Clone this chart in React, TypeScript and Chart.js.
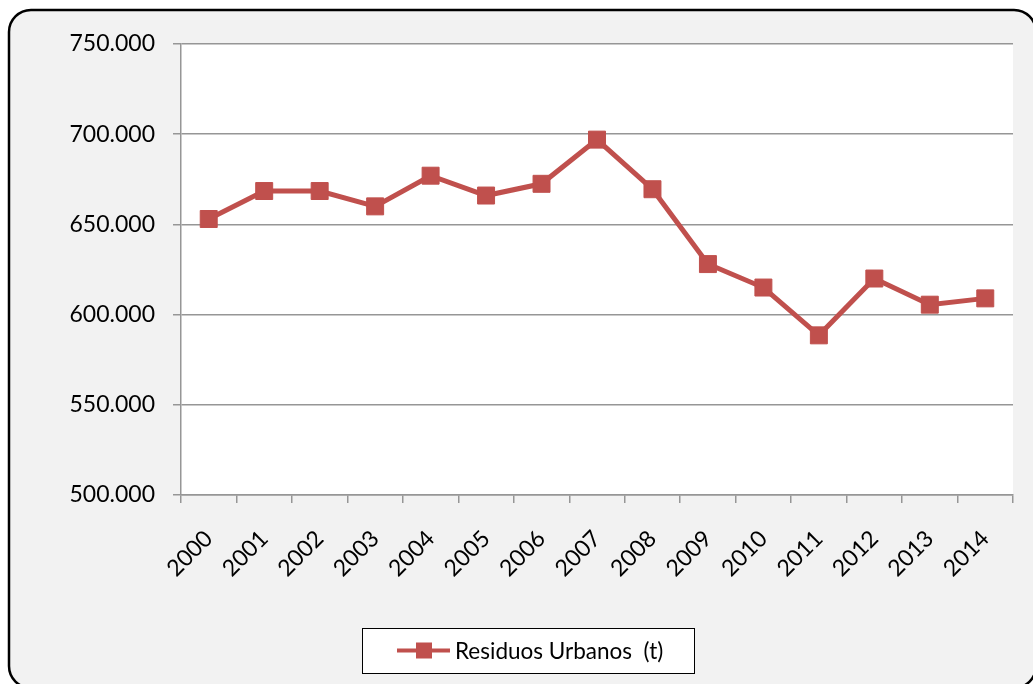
import React, { useEffect, useRef } from "react";
import { Chart, registerables } from "chart.js";

Chart.register(...registerables);

const years = ["2000","2001","2002","2003","2004","2005","2006","2007","2008","2009","2010","2011","2012","2013","2014"];
const residuos = [653000, 668500, 668500, 660000, 677000, 666000, 672500, 697000, 669500, 628000, 615000, 588500, 620000, 605500, 609000];
const seriesLabel = "Residuos Urbanos  (t)";
const yMin = 500000;
const yMax = 750000;
const yStep = 50000;

const RED = "#c0504d";
const GRID = "#969696";
const FONT = "Lato, 'Liberation Sans', sans-serif";

function fmt(v: number): string {
  return String(Math.round(v)).replace(/\B(?=(\d{3})+(?!\d))/g, ".");
}

const framePlugin = {
  id: "frame",
  beforeDraw(chart: any) {
    const ctx = chart.ctx;
    const r = 22;
    const x0 = 9, y0 = 10, x1 = 1036, y1 = 688;
    ctx.save();
    ctx.beginPath();
    ctx.moveTo(x0 + r, y0);
    ctx.lineTo(x1 - r, y0);
    ctx.arcTo(x1, y0, x1, y0 + r, r);
    ctx.lineTo(x1, y1 - r);
    ctx.arcTo(x1, y1, x1 - r, y1, r);
    ctx.lineTo(x0 + r, y1);
    ctx.arcTo(x0, y1, x0, y1 - r, r);
    ctx.lineTo(x0, y0 + r);
    ctx.arcTo(x0, y0, x0 + r, y0, r);
    ctx.closePath();
    ctx.fillStyle = "#f2f2f2";
    ctx.fill();
    ctx.lineWidth = 2.5;
    ctx.strokeStyle = "#000";
    ctx.stroke();
    const a = chart.chartArea;
    ctx.fillStyle = "#fff";
    ctx.fillRect(a.left, a.top, a.right - a.left, a.bottom - a.top);
    ctx.restore();
  },
};

const legendPlugin = {
  id: "boxLegend",
  afterDraw(chart: any) {
    const ctx = chart.ctx;
    const ds = chart.data.datasets[0];
    ctx.save();
    const bx = 362, by = 628, bw = 332, bh = 45;
    ctx.fillStyle = "#fff";
    ctx.fillRect(bx, by, bw, bh);
    ctx.strokeStyle = "#000";
    ctx.lineWidth = 1;
    ctx.strokeRect(bx + 0.5, by + 0.5, bw, bh);
    const cy = by + bh / 2;
    ctx.strokeStyle = ds.borderColor;
    ctx.lineWidth = 4;
    ctx.beginPath();
    ctx.moveTo(397, cy);
    ctx.lineTo(450, cy);
    ctx.stroke();
    ctx.fillStyle = ds.pointBackgroundColor;
    ctx.fillRect(416, cy - 8, 16, 16);
    ctx.fillStyle = "#000";
    ctx.font = `22.5px ${FONT}`;
    ctx.textBaseline = "middle";
    ctx.textAlign = "left";
    ctx.fillText(ds.label, 455, cy + 1);
    ctx.restore();
  },
};

export default function App() {
  const ref = useRef<HTMLCanvasElement | null>(null);
  useEffect(() => {
    if (!ref.current) return;
    const chart = new Chart(ref.current, {
      type: "line",
      data: {
        labels: years,
        datasets: [
          {
            label: seriesLabel,
            data: residuos,
            borderColor: RED,
            backgroundColor: RED,
            borderWidth: 5,
            pointStyle: "rect",
            pointRadius: 12,
            pointBackgroundColor: RED,
            pointBorderColor: RED,
            pointBorderWidth: 1,
            tension: 0,
          },
        ],
      },
      options: {
        responsive: false,
        animation: false,
        layout: { padding: { top: 44, left: 0, right: 20, bottom: 0 } },
        plugins: { legend: { display: false }, tooltip: { enabled: false } },
        scales: {
          x: {
            type: "category",
            offset: true,
            grid: { display: true, drawOnChartArea: false, drawTicks: true, tickLength: 8, offset: true, color: GRID, lineWidth: 1.5 },
            border: { display: true, color: GRID, width: 1.5 },
            ticks: { color: "#000", font: { family: FONT, size: 23 }, minRotation: 45, maxRotation: 45, padding: 22, autoSkip: false },
            afterFit(scale: any) { scale.height = 189; },
          },
          y: {
            min: yMin,
            max: yMax,
            grid: { color: GRID, lineWidth: 1.5, tickLength: 8 },
            border: { display: true, color: GRID, width: 1.5 },
            ticks: { stepSize: yStep, color: "#000", font: { family: FONT, size: 23 }, padding: 18, callback: (v: any) => fmt(Number(v)) },
            afterFit(scale: any) { scale.width = 181; },
          },
        },
      },
      plugins: [framePlugin, legendPlugin],
    });
    return () => chart.destroy();
  }, []);
  return (
    <div style={{ position: "fixed", left: 0, top: 0, width: 1033, height: 684 }}>
      <canvas ref={ref} width={1033} height={684} style={{ display: "block" }} />
    </div>
  );
}
